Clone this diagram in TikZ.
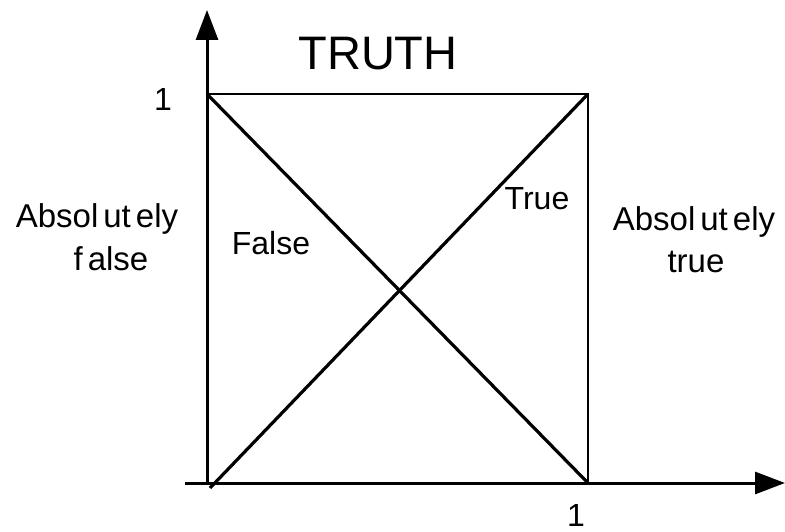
\documentclass[tikz,border=0pt]{standalone}
\usepackage{fontspec}
\setmainfont{Liberation Sans}
\usetikzlibrary{arrows.meta}
\tikzset{
  axis/.style={line width=3pt,-{Triangle[length=30pt,width=22pt]}},
  edge/.style={line width=2.5pt},
  diag/.style={line width=3.2pt},
  lbl/.style={anchor=base,inner sep=0pt,font=\fontsize{32}{38}\selectfont},
  wide/.style={anchor=base,inner sep=0pt,font=\fontsize{33}{38}\selectfont},
  title/.style={anchor=base,inner sep=0pt,font=\fontsize{47}{56}\selectfont}
}
\begin{document}
\begin{tikzpicture}[x=1pt,y=-1pt]
\useasboundingbox (0,0) rectangle (785,532);
\coordinate (ystart) at (207,485);
\coordinate (ytip) at (207,10);
\coordinate (xstart) at (185,483);
\coordinate (xtip) at (785,483);
\coordinate (TL) at (207,94);
\coordinate (TR) at (588,94);
\coordinate (BR) at (588,483);
\coordinate (BL) at (210,488);
\draw[axis] (ystart) -- (ytip);
\draw[axis] (xstart) -- (xtip);
\draw[edge] (TL) -- (TR) -- (BR);
\draw[diag] (TL) -- (BR);
\draw[diag] (BL) -- (TR);
\node[title] (truth) at (378,70) {TRUTH};
\node[lbl] (one) at (163,111) {1};
\node[lbl] (onex) at (576,526) {1};
\node[wide] (af1) at (97,227) {Absol\kern5pt ut\kern5pt ely};
\node[wide] (af2) at (111,270) {f\kern5pt alse};
\node[wide] (at1) at (694,230) {Absol\kern5pt ut\kern5pt ely};
\node[wide] (at2) at (696,272) {true};
\node[lbl] (false) at (271,254) {False};
\node[lbl] (true) at (537,210) {True};
\end{tikzpicture}
\end{document}
